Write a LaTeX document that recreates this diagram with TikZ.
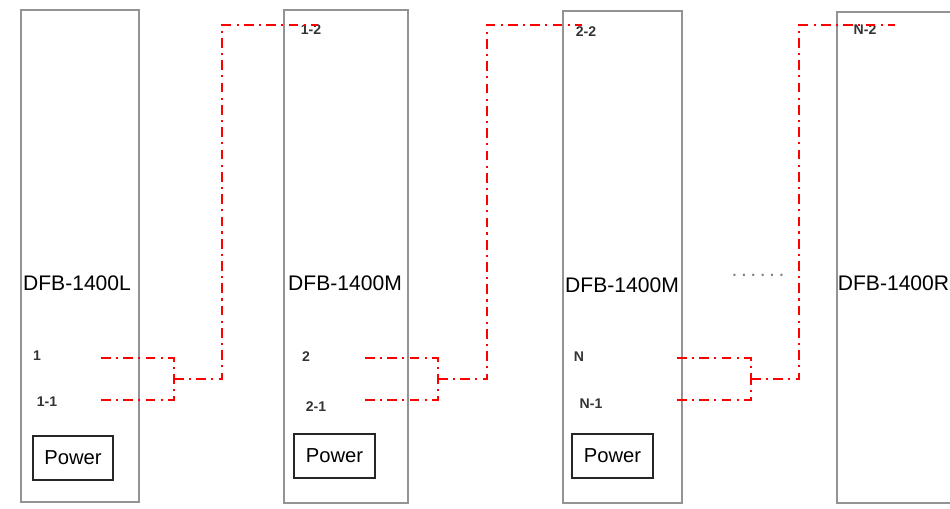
\documentclass[tikz,border=0pt]{standalone}
\usepackage{fontspec}
\setmainfont{Liberation Sans}
\begin{document}
\begin{tikzpicture}[x=0.02cm,y=-0.02cm,
    rack/.style={draw=gray!85,line width=1.2pt,inner sep=0pt},
    pwr/.style={draw=black!85,line width=1pt,minimum width=1.6cm,minimum height=0.88cm,inner sep=0pt,font=\fontsize{11.5}{13}\selectfont},
    model/.style={font=\fontsize{12}{14}\selectfont},
    port/.style={font=\fontsize{8}{9}\selectfont\bfseries,text=black!80,inner sep=0pt},
    link/.style={red,line width=0.9pt,dash pattern=on 5.5pt off 3pt on 1.2pt off 3pt}]
        \useasboundingbox (0,0) rectangle (950,508);
        \clip (0,0) rectangle (950,508);
        % racks
        \node[rack,minimum width=2.36cm,minimum height=9.84cm] (r1) at (80,256) {};
        \node[rack,minimum width=2.48cm,minimum height=9.86cm] (r2) at (346,256.5) {};
        \node[rack,minimum width=2.38cm,minimum height=9.84cm] (r3) at (622.5,257) {};
        \node[rack,minimum width=2.46cm,minimum height=9.82cm] (r4) at (898.5,257.5) {};
        \node[model] (m1) at (77,283) {DFB-1400L};
        \node[model] (m2) at (345,283) {DFB-1400M};
        \node[model] (m3) at (622,285) {DFB-1400M};
        \node[model] (m4) at (893.5,283) {DFB-1400R};
        \node[pwr,minimum width=1.6cm] (p1) at (73,458) {Power};
        \node[pwr,minimum width=1.62cm] (p2) at (334.5,456) {Power};
        \node[pwr,minimum width=1.62cm] (p3) at (612.5,456) {Power};
        % port labels
        \node[port] (a1) at (37,356) {1};
        \node[port] (b1) at (47,402) {1-1};
        \node[port] (a2) at (306,357) {2};
        \node[port] (b2) at (316,407) {2-1};
        \node[port] (a3) at (579,357) {N};
        \node[port] (b3) at (591,404) {N-1};
        \node[port] (c1) at (311,30) {1-2};
        \node[port] (c2) at (586,32) {2-2};
        \node[port] (c3) at (865,30) {N-2};
        \node[model,text=gray] (more) at (758,275) {.\,.\,.\,.\,.\,.};
        % fibre runs
        \foreach \i/\sx/\bx/\rx/\ex in {1/101/174/222/318, 2/365/438/487/582, 3/677/751/799/895} {
            \coordinate (t\i) at (\sx,358);
            \coordinate (u\i) at (\sx,400);
            \coordinate (j\i) at (\bx,379);
            \coordinate (k\i) at (\rx,25);
            \coordinate (e\i) at (\ex,25);
            \draw[link] (t\i) -| (j\i);
            \draw[link] (u\i) -| (j\i);
            \draw[link] (j\i) -| (k\i) -- (e\i);
        }
\end{tikzpicture}
\end{document}
